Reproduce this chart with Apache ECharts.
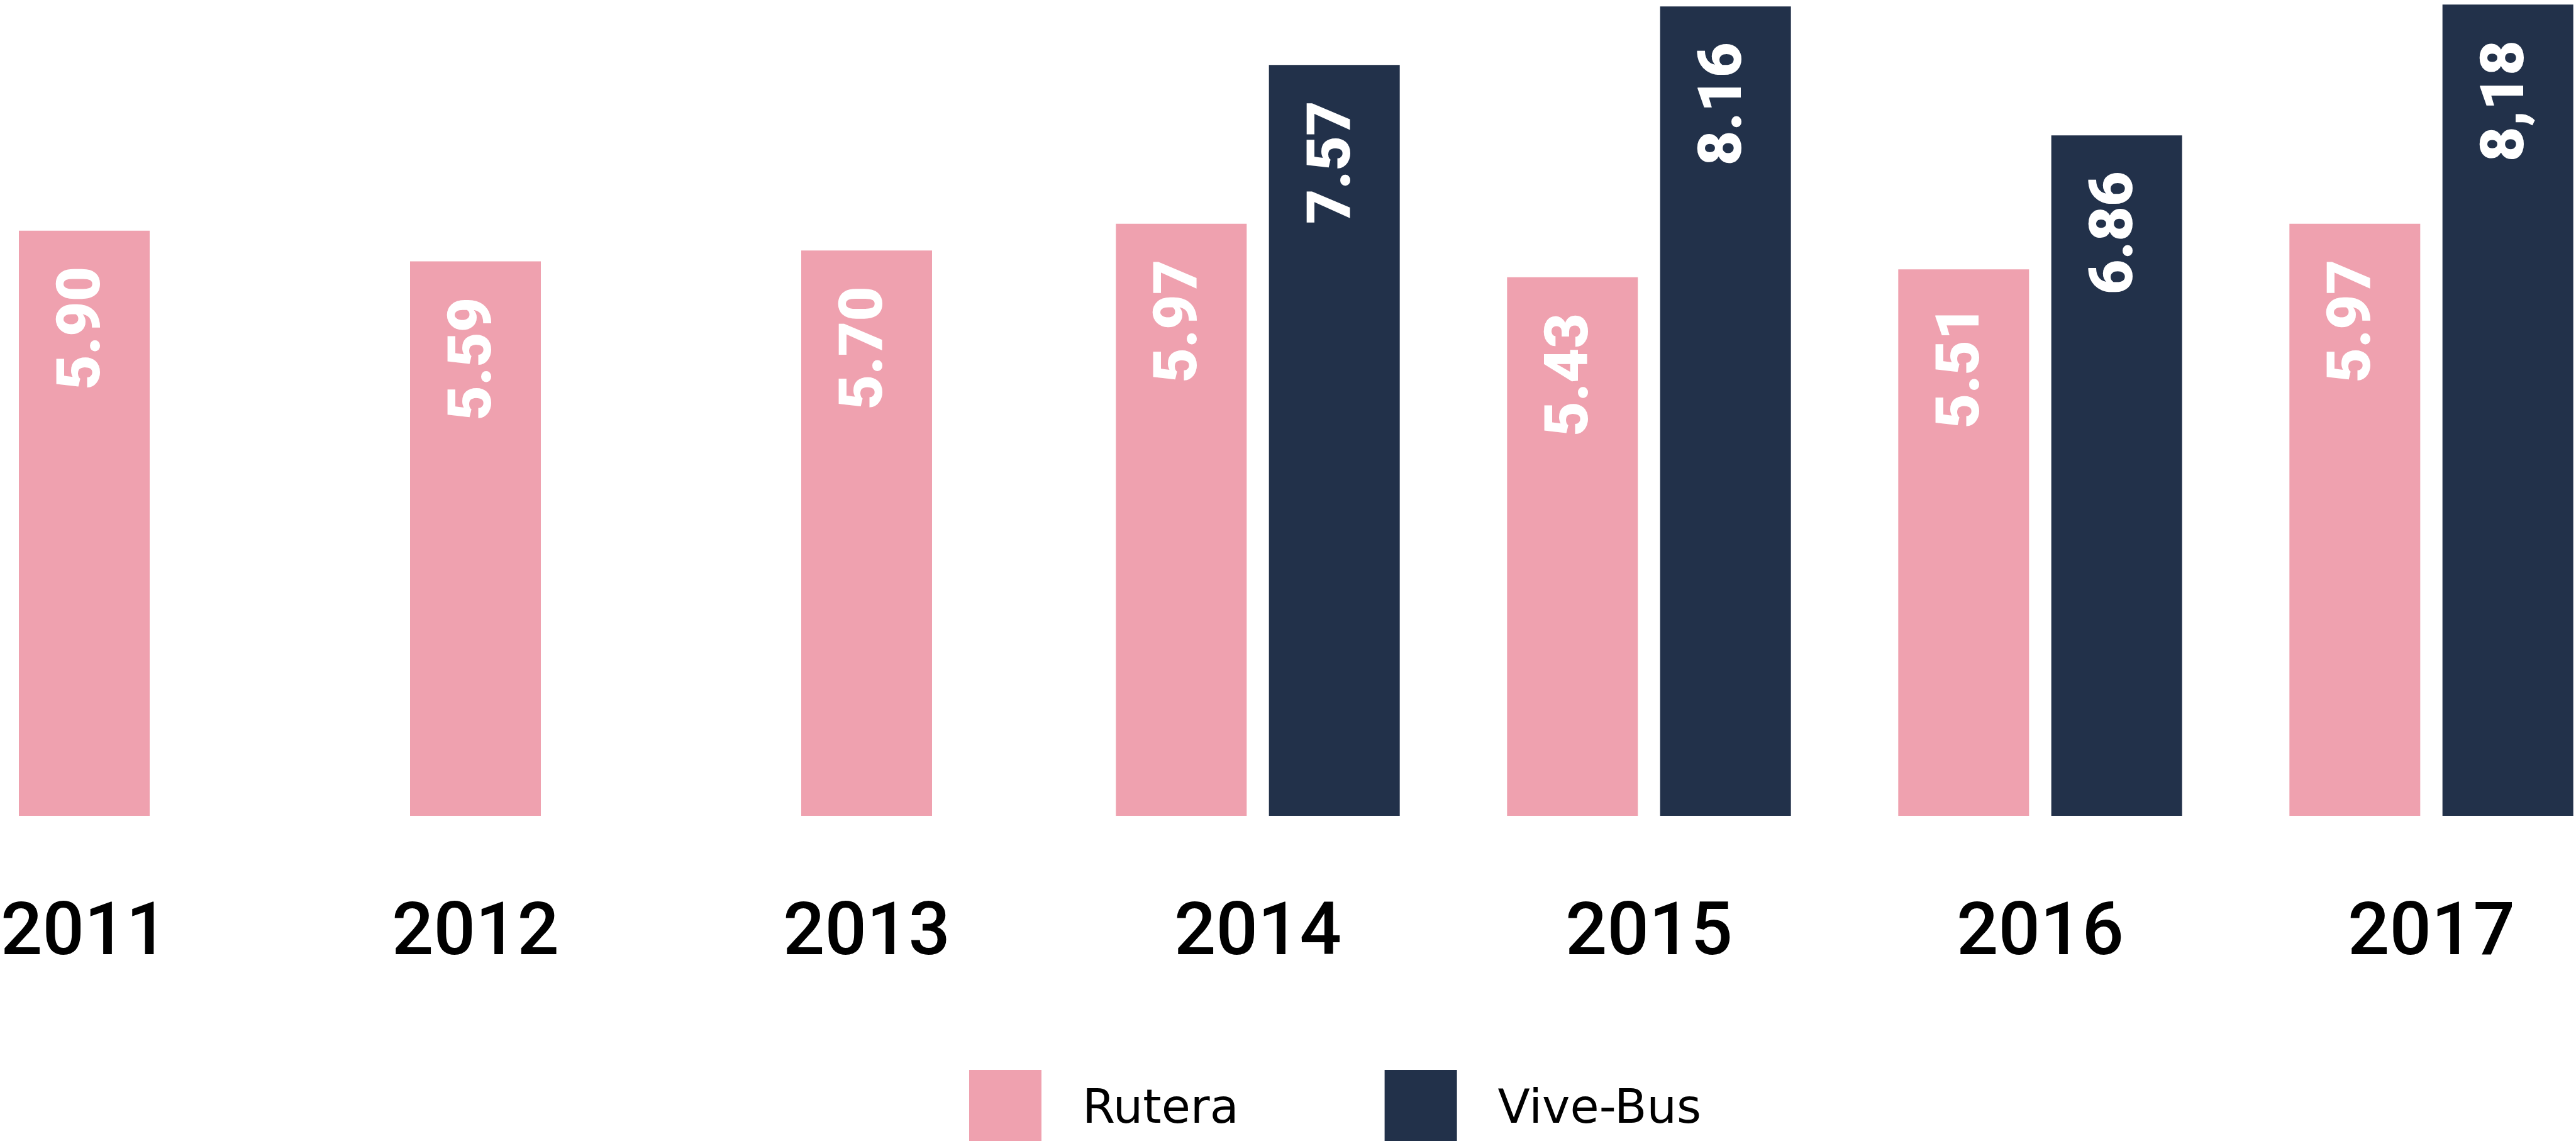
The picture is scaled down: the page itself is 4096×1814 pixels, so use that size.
<!DOCTYPE html>
<html><head><meta charset="utf-8">
<script src="https://cdn.jsdelivr.net/npm/echarts@6/dist/echarts.min.js"></script>
<style>html,body{margin:0;padding:0;background:#fff;overflow:hidden}#chart{width:4096px;height:1814px}</style>
</head><body><div id="chart"></div>
<script>
const years = ['2011', '2012', '2013', '2014', '2015', '2016', '2017'];
const seriesNames = ['Rutera', 'Vive-Bus'];
// Rutera years without a Vive-Bus bar (drawn centred in their slot)
const ruteraSingle = [5.90, 5.59, 5.70, null, null, null, null];
// Rutera years paired with Vive-Bus
const ruteraPaired = [null, null, null, 5.97, 5.43, 5.51, 5.97];
const viveBus = [null, null, null, 7.57, 8.16, 6.86, 8.18];
const ruteraLabels = ['5.90', '5.59', '5.70', '5.97', '5.43', '5.51', '5.97'];
const viveBusLabels = ['', '', '', '7.57', '8.16', '6.86', '8,18'];

const PINK = '#EFA1AF';
const NAVY = '#22314A';

function valueLabel(texts) {
  return {
    show: true,
    position: 'insideTop',
    distance: 57,
    rotate: 90,
    align: 'right',
    verticalAlign: 'middle',
    color: '#ffffff',
    fontFamily: 'Roboto',
    fontWeight: 900,
    fontSize: 96,
    formatter: p => texts[p.dataIndex]
  };
}

const chart = echarts.init(document.getElementById('chart'), null, {renderer: 'canvas'});
chart.setOption({
  animation: false,
  backgroundColor: '#ffffff',
  grid: {left: -177, width: 4354, top: 4, bottom: 517, containLabel: false, outerBoundsMode: 'none'},
  legend: {
    data: seriesNames,
    left: 1541,
    top: 1701,
    padding: 0,
    itemWidth: 115,
    itemHeight: 130,
    itemGap: 232,
    icon: 'rect',
    textStyle: {
      fontFamily: 'DejaVu Sans',
      fontSize: 75,
      color: '#000000',
      padding: [0, 0, 0, 60]
    }
  },
  xAxis: [
    {
      type: 'category',
      data: years,
      axisLine: {show: false},
      axisTick: {show: false},
      splitLine: {show: false},
      axisLabel: {
        interval: 0,
        margin: 191,
        verticalAlign: 'middle',
        color: '#000000',
        fontFamily: 'Roboto',
        fontWeight: 500,
        fontSize: 117
      }
    },
    {
      type: 'category',
      data: years,
      show: false,
      position: 'bottom'
    }
  ],
  yAxis: {
    type: 'value',
    min: 0,
    max: 8.2,
    show: false,
    splitLine: {show: false}
  },
  series: [
    {
      name: 'Rutera',
      type: 'bar',
      xAxisIndex: 1,
      data: ruteraSingle,
      barWidth: 208,
      itemStyle: {color: PINK},
      label: valueLabel(ruteraLabels)
    },
    {
      name: 'Rutera',
      type: 'bar',
      xAxisIndex: 0,
      data: ruteraPaired,
      barWidth: 208,
      barGap: '17%',
      itemStyle: {color: PINK},
      label: valueLabel(ruteraLabels)
    },
    {
      name: 'Vive-Bus',
      type: 'bar',
      xAxisIndex: 0,
      data: viveBus,
      barWidth: 208,
      barGap: '17%',
      itemStyle: {color: NAVY},
      label: valueLabel(viveBusLabels)
    }
  ]
});
</script>
</body></html>
